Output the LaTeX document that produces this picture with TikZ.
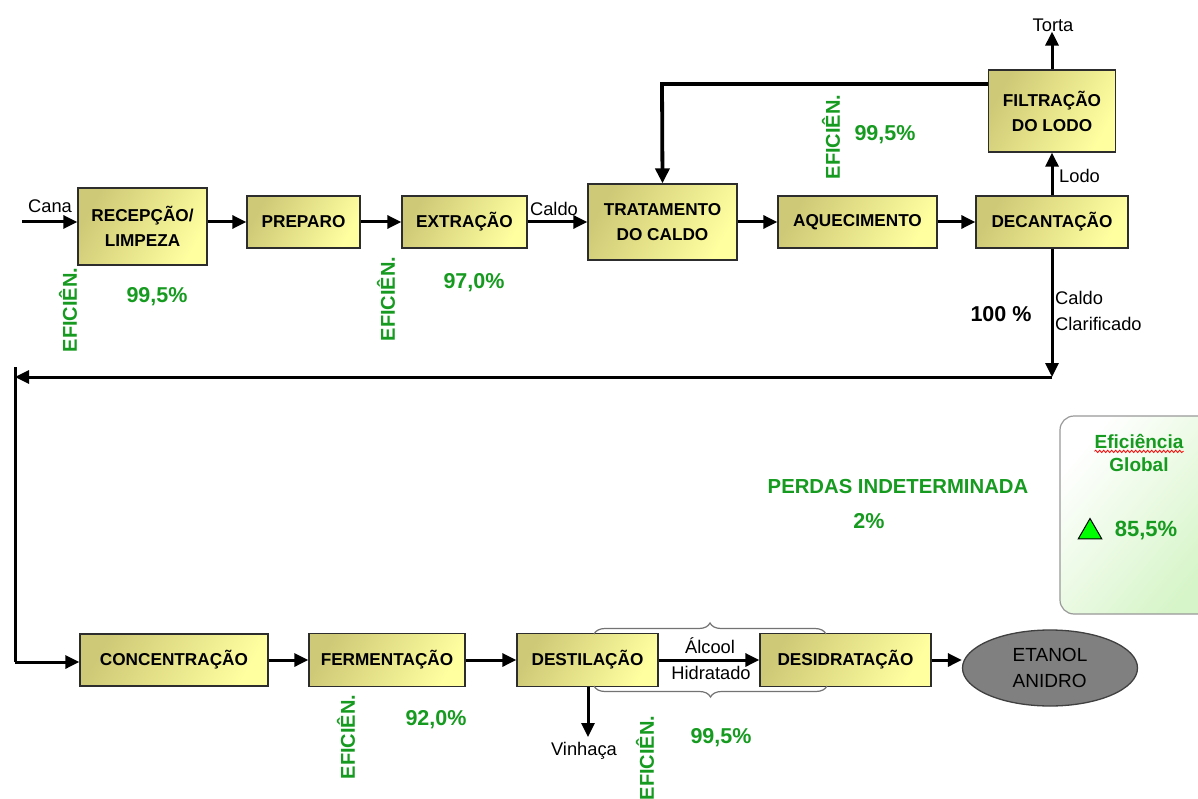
\documentclass[tikz,border=0pt]{standalone}
\usepackage{fontspec}
\setmainfont{Liberation Sans}
\usetikzlibrary{arrows.meta,shapes.geometric,decorations.pathreplacing,decorations.pathmorphing,calc}

\definecolor{effgreen}{RGB}{22,155,32}
\definecolor{boxlight}{RGB}{255,255,160}
\definecolor{boxdark}{RGB}{206,201,118}
\definecolor{boxline}{RGB}{45,45,45}
\definecolor{panelgreen}{RGB}{214,245,200}
\definecolor{ovalgray}{RGB}{128,128,128}

\begin{document}
\begin{tikzpicture}[x=1pt,y=-1pt,
  stepbox/.style={draw=boxline, line width=1.3pt, left color=boxdark, right color=boxlight,
    shading angle=60, font=\fontsize{17.2}{25}\selectfont\bfseries, align=center,
    inner sep=0pt},
  lbl/.style={font=\fontsize{18.3}{26}\selectfont, inner sep=0pt, align=left},
  eff/.style={font=\fontsize{20}{24}\selectfont\bfseries, text=effgreen, rotate=90, inner sep=0pt},
  pct/.style={font=\fontsize{21.5}{24}\selectfont\bfseries, text=effgreen, inner sep=0pt},
  arr/.style={line width=3pt, -{Triangle[length=14pt,width=13pt]}},
  feed/.style={line width=3.8pt, -{Triangle[length=15pt,width=14pt]}},
  plain/.style={line width=3pt},
  bracestyle/.style={draw=black!55, line width=1.2pt, decorate,
    decoration={brace, amplitude=11pt, aspect=0.5}},
]
\clip (0,0) rectangle (1198,799);
\fill[white] (0,0) rectangle (1198,799);

% ---- first line of the process ----
\node[stepbox, minimum width=129pt, minimum height=77pt] (rec)  at (142.5,226.5) {RECEPÇÃO/\\LIMPEZA};
\node[stepbox, minimum width=113pt, minimum height=52pt] (prep) at (303.5,222) {PREPARO};
\node[stepbox, minimum width=125pt, minimum height=52pt] (extr) at (464.5,222) {EXTRAÇÃO};
\node[stepbox, minimum width=149pt, minimum height=76pt] (trat) at (662.5,222) {TRATAMENTO\\DO CALDO};
\node[stepbox, minimum width=159pt, minimum height=52pt] (aque) at (857.5,222) {AQUECIMENTO};
\node[stepbox, minimum width=152pt, minimum height=52pt] (deca) at (1052,222) {DECANTAÇÃO};
\node[stepbox, minimum width=127pt, minimum height=82pt] (filt) at (1052,111) {FILTRAÇÃO\\DO LODO};

\coordinate (cin) at (22,222);
\draw[arr] (cin) -- (rec.west |- cin);
\node[lbl] (lcana) at (50,206) {Cana};
\draw[arr] (rec.east |- prep.west) -- (prep.west);
\draw[arr] (prep) -- (extr);
\draw[arr] (extr) -- (trat);
\node[lbl] (lcaldo) at (554,209) {Caldo};
\draw[arr] (trat) -- (aque);
\draw[arr] (aque) -- (deca);
\draw[arr] (deca.north) -- (filt.south);
\node[lbl, anchor=west] (llodo) at (1059,176) {Lodo};
\node[lbl] (ltorta) at (1053,25) {Torta};
\draw[arr] (filt.north) -- (filt.north |- ltorta.south);

% sludge filtrate back to treatment
\coordinate (fb) at (662,84);
\draw[feed] (filt.west |- fb) -- (fb) -- (trat.north);

% clarified juice down to the second line
\coordinate (c1) at (1052,377);
\coordinate (c2) at (15,377);
\coordinate (c3) at (15,367);
\coordinate (c4) at (15,662);
\draw[arr] (deca.south) -- (c1);
\node[lbl, anchor=west] (lclar) at (1055,311) {Caldo\\Clarificado};
\node[font=\fontsize{21.5}{24}\selectfont\bfseries, inner sep=0pt] (p100) at (1001,314) {100 \%};
\draw[arr] (c1) -- (c2);

% ---- second line of the process ----
\node[stepbox, minimum width=188pt, minimum height=52pt] (conc) at (174,660) {CONCENTRAÇÃO};
\node[stepbox, minimum width=156pt, minimum height=53pt] (ferm) at (387,660) {FERMENTAÇÃO};
\node[stepbox, minimum width=141pt, minimum height=53pt] (dest) at (587.5,660) {DESTILAÇÃO};
\node[stepbox, minimum width=171pt, minimum height=53pt] (desi) at (845.5,660) {DESIDRATAÇÃO};
\node[ellipse, draw=black!75, line width=1.3pt, fill=ovalgray, minimum width=175pt, minimum height=76pt,
  inner sep=0pt, font=\fontsize{19}{26}\selectfont, align=left] (etanol) at (1050,668) {ETANOL\\ANIDRO};

\draw[plain] (c3) -- (c4);
\draw[arr] (c4) -- (conc.west |- c4);
\draw[arr] (conc) -- (ferm);
\draw[arr] (ferm) -- (dest);
\draw[arr] (dest) -- (desi);
\draw[arr] (desi.east) -- (etanol.west |- desi.east);
\node[lbl] (lalc) at (710,646) {Álcool};
\node[lbl] (lhid) at (711,673) {Hidratado};

\coordinate (vin) at (588,737);
\draw[arr] (dest.south -| vin) -- (vin);
\node[lbl] (lvin) at (584,751) {Vinhaça};

% braces around the dehydration pair
\coordinate (b1) at (594,634);
\coordinate (b2) at (826,634);
\coordinate (b3) at (827,686);
\coordinate (b4) at (594,686);
\draw[bracestyle] (b1) -- (b2);
\draw[bracestyle] (b3) -- (b4);

% ---- efficiencies ----
\node[eff] (e1) at (68,310) {EFICIÊN.};
\node[pct] (v1) at (157,297) {99,5\%};
\node[eff] (e2) at (386,299) {EFICIÊN.};
\node[pct] (v2) at (474,283) {97,0\%};
\node[eff] (e3) at (831,137) {EFICIÊN.};
\node[pct] (v3) at (885,135) {99,5\%};
\node[eff] (e4) at (346,737) {EFICIÊN.};
\node[pct] (v4) at (436,720) {92,0\%};
\node[eff] (e5) at (645,758) {EFICIÊN.};
\node[pct] (v5) at (721,738) {99,5\%};

\node[font=\fontsize{20.3}{24}\selectfont\bfseries, text=effgreen, inner sep=0pt] (perd) at (898,487) {PERDAS INDETERMINADA};
\node[pct] (p2) at (869,521) {2\%};

% ---- overall efficiency panel ----
\draw[draw=black!40, line width=1.2pt, rounded corners=14pt, left color=white, right color=panelgreen,
  shading angle=50] (1060,416) rectangle (1215,614);
\node[font=\fontsize{19}{24}\selectfont\bfseries, text=effgreen, inner sep=0pt] (geff) at (1139,441) {Eficiência};
\node[font=\fontsize{19}{24}\selectfont\bfseries, text=effgreen, inner sep=0pt] (gglob) at (1139,465) {Global};
\draw[red, line width=0.8pt, decorate, decoration={snake, amplitude=1.2pt, segment length=4pt}]
  ($(geff.south west)+(0,3)$) -- ($(geff.south east)+(0,3)$);
\node[regular polygon, regular polygon sides=3, draw=black, line width=1pt, fill=green,
  minimum size=27pt, inner sep=0pt] (tri) at (1090,532) {};
\node[font=\fontsize{22}{24}\selectfont\bfseries, text=effgreen, inner sep=0pt] (g85) at (1146,531) {85,5\%};
\end{tikzpicture}
\end{document}
